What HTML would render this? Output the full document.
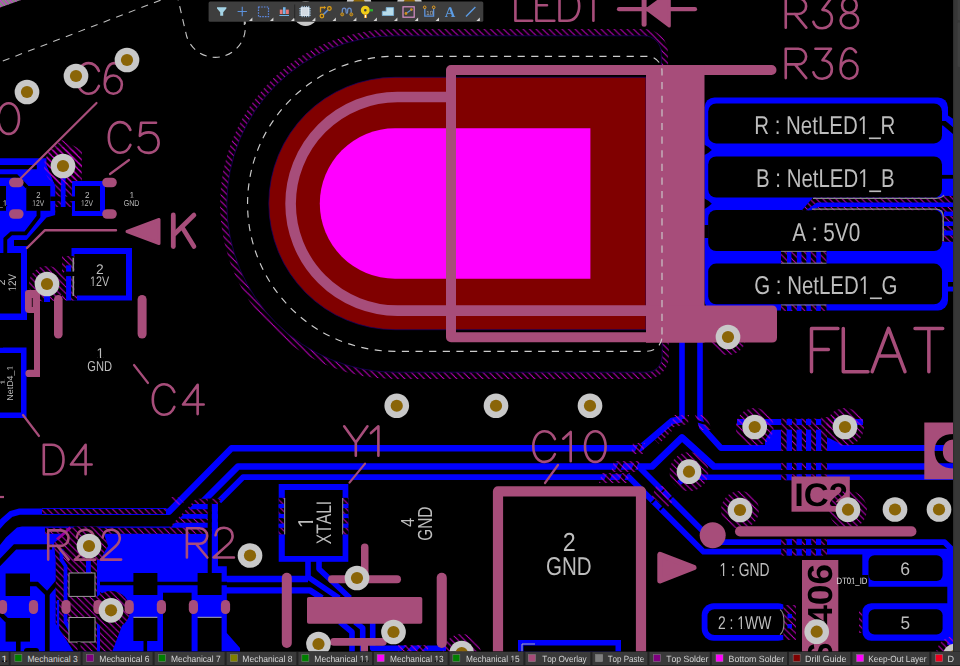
<!DOCTYPE html>
<html><head><meta charset="utf-8"><title>PCB</title>
<style>
html,body{margin:0;padding:0;background:#000;overflow:hidden}
body{width:960px;height:666px;position:relative;font-family:"Liberation Sans",sans-serif}
svg{position:absolute;left:0;top:0;display:block}
text{font-family:"Liberation Sans",sans-serif;font-kerning:none;font-variant-ligatures:none;text-rendering:geometricPrecision}
</style></head><body>
<svg width="960" height="666" viewBox="0 0 960 666">
<defs>
<pattern id="h" width="6.5" height="6.5" patternUnits="userSpaceOnUse">
<path d="M-6.5,-6.5 L6.5,6.5 M0,-6.5 L13,6.5 M-13,-6.5 L0,6.5" stroke="#c400c4" stroke-width="1.0" fill="none"/>
</pattern>
<pattern id="h2" width="5" height="6" patternUnits="userSpaceOnUse">
<path d="M-5,-6 L5,6 M0,-6 L10,6 M-10,-6 L0,6" stroke="#e020e0" stroke-width="1.0" fill="none"/>
</pattern>
<clipPath id="cv"><rect x="0" y="0" width="953" height="651.5"/></clipPath>
</defs>
<rect x="0" y="0" width="960" height="666" fill="#000"/>
<g clip-path="url(#cv)">
<rect x="704.5" y="97.4" width="243.50" height="213.00" rx="10" fill="#0000ff" />
<rect x="940" y="113" width="13.00" height="169.00" fill="#0000ff" />
<rect x="946" y="286.6" width="7.00" height="4.90" fill="#0000ff" />
<rect x="704" y="225" width="4.60" height="13.00" fill="#000" />
<path d="M704,144.5 Q708,146.3 711.8,149.9 Q708,153.5 704,155.3 Z" fill="#000"/>
<path d="M704,198.35 Q708,200.15 711.8,203.75 Q708,207.35 704,209.15 Z" fill="#000"/>
<rect x="708.2" y="103.4" width="233.80" height="40.00" rx="8" fill="#000" />
<rect x="708.2" y="156.4" width="233.80" height="41.20" rx="8" fill="#000" />
<rect x="708.2" y="209.9" width="233.80" height="41.20" rx="8" fill="#000" />
<rect x="708.2" y="263.6" width="233.80" height="40.70" rx="8" fill="#000" />
<polygon points="948,111 953.5,111 953.5,119.2 948,115.4" fill="#000" />
<polygon points="941.5,121.1 945.7,121.1 953.5,127.6 953.5,134.3 943,125.6 941.5,125.6" fill="#000" />
<rect x="941.5" y="174.9" width="12.50" height="3.80" fill="#000" />
<rect x="942.4" y="195.9" width="11.10" height="45.90" fill="#000" />
<rect x="942.4" y="195.9" width="11.10" height="45.90" fill="url(#h)" />
<polygon points="813,197.6 953,197.6 953,210.2 802,210.2" fill="#000" />
<polygon points="813,197.6 953,197.6 953,210.2 802,210.2" fill="url(#h)" />
<polygon points="806,210.2 811.5,210.2 818.8,207.1 953.5,207.1 953.5,202.6 817,202.6" fill="#0000ff" />
<polyline points="813,198.3 936,198.3" fill="none" stroke="#8c8c8c" stroke-width="1.3" stroke-linejoin="round"/>
<polyline points="812,209.2 936,209.2" fill="none" stroke="#8c8c8c" stroke-width="1.3" stroke-linejoin="round"/>
<path d="M936,198.3 Q942,198 944,195" fill="none" stroke="#8c8c8c" stroke-width="1.2"/>
<path d="M936,209.2 Q943.2,209.5 943.2,217 L943.2,241" fill="none" stroke="#8c8c8c" stroke-width="1.3"/>
<rect x="944" y="211.6" width="9.50" height="4.50" fill="#0000ff" />
<rect x="944" y="221.5" width="9.50" height="4.50" fill="#0000ff" />
<rect x="944" y="230.5" width="9.50" height="5.00" fill="#0000ff" />
<rect x="781" y="251" width="45.50" height="12.60" fill="#000" />
<rect x="781" y="251" width="45.50" height="12.60" fill="url(#h)" />
<rect x="787" y="251" width="4.40" height="12.60" fill="#0000ff" />
<rect x="796.9" y="251" width="4.50" height="12.60" fill="#0000ff" />
<rect x="806.4" y="251" width="4.40" height="12.60" fill="#0000ff" />
<rect x="816.3" y="251" width="4.50" height="12.60" fill="#0000ff" />
<polyline points="781,251.4 826.5,251.4" fill="none" stroke="#888" stroke-width="0.9" stroke-linejoin="round"/>
<rect x="781" y="304.6" width="45.50" height="6.40" fill="#000" />
<rect x="781" y="304.6" width="45.50" height="6.40" fill="url(#h)" />
<rect x="787" y="304.6" width="4.40" height="6.40" fill="#0000ff" />
<rect x="796.9" y="304.6" width="4.50" height="6.40" fill="#0000ff" />
<rect x="806.4" y="304.6" width="4.40" height="6.40" fill="#0000ff" />
<rect x="816.3" y="304.6" width="4.50" height="6.40" fill="#0000ff" />
<polyline points="781,305.0 826.5,305.0" fill="none" stroke="#888" stroke-width="0.9" stroke-linejoin="round"/>
<polyline points="781,263.2 826.5,263.2" fill="none" stroke="#888" stroke-width="0.9" stroke-linejoin="round"/>
<polyline points="682,340 682,419" fill="none" stroke="#0000ff" stroke-width="5.6" stroke-linejoin="round"/>
<polyline points="700,340 700,419" fill="none" stroke="#0000ff" stroke-width="5.6" stroke-linejoin="round"/>
<polyline points="-6,531 3,521 11,514 19,511.7 45,511.7" fill="none" stroke="#0000ff" stroke-width="6.199999999999999" stroke-linejoin="round"/>
<polyline points="160,511.7 169,511.7 231.5,448.3 640,448.3 672,421 682,419" fill="none" stroke="#0000ff" stroke-width="6.4" stroke-linejoin="round"/>
<polyline points="202,502.5 238,466.5 652,466.5 682,437.5 714,466.5 953,466.5" fill="none" stroke="#0000ff" stroke-width="6.7" stroke-linejoin="round"/>
<polyline points="219,501.2 243,477.2 629,477.2 703.5,551.7 953,551.7" fill="none" stroke="#0000ff" stroke-width="5.8" stroke-linejoin="round"/>
<polyline points="640,468 714,542.2 944.6,542.2 955,552.6" fill="none" stroke="#0000ff" stroke-width="5.8" stroke-linejoin="round"/>
<polyline points="700,419 702,427 721,448 953,448" fill="none" stroke="#0000ff" stroke-width="6.0" stroke-linejoin="round"/>
<polyline points="679,483 686,477 707,477.3 953,477.3" fill="none" stroke="#0000ff" stroke-width="5.3999999999999995" stroke-linejoin="round"/>
<polyline points="737,422 863,422" fill="none" stroke="#0000ff" stroke-width="6" stroke-linejoin="round"/>
<polygon points="765,440 772.2,429.8 781.2,429.8 781.2,451 765,451" fill="#0000ff" />
<polygon points="826.9,437 845,446 845,451 826.9,451" fill="#0000ff" />
<rect x="781.2" y="418.6" width="45.80" height="32.40" fill="#000" />
<rect x="781.2" y="418.6" width="45.80" height="32.40" fill="url(#h)" />
<rect x="821.5" y="417" width="12.50" height="11.00" fill="#000" />
<rect x="821.5" y="417" width="12.50" height="11.00" fill="url(#h)" />
<rect x="786.6" y="419" width="5.40" height="6.00" fill="#0000ff" />
<rect x="796.5" y="419" width="5.30" height="6.00" fill="#0000ff" />
<rect x="806" y="419" width="5.20" height="6.00" fill="#0000ff" />
<rect x="816" y="419" width="5.20" height="6.00" fill="#0000ff" />
<rect x="786.6" y="429.6" width="5.40" height="21.40" fill="#0000ff" />
<rect x="796.5" y="429.6" width="5.30" height="21.40" fill="#0000ff" />
<rect x="806" y="429.6" width="5.20" height="21.40" fill="#0000ff" />
<rect x="816" y="429.6" width="5.20" height="21.40" fill="#0000ff" />
<rect x="781.2" y="462.9" width="45.80" height="7.10" fill="#000" />
<rect x="781.2" y="462.9" width="45.80" height="7.10" fill="url(#h)" />
<rect x="786.6" y="462.9" width="5.40" height="7.10" fill="#0000ff" />
<rect x="796.5" y="462.9" width="5.30" height="7.10" fill="#0000ff" />
<rect x="806" y="462.9" width="5.20" height="7.10" fill="#0000ff" />
<rect x="816" y="462.9" width="5.20" height="7.10" fill="#0000ff" />
<rect x="781.2" y="474.3" width="45.80" height="6.00" fill="#000" />
<rect x="781.2" y="474.3" width="45.80" height="6.00" fill="url(#h)" />
<rect x="786.6" y="474.3" width="5.40" height="6.00" fill="#0000ff" />
<rect x="796.5" y="474.3" width="5.30" height="6.00" fill="#0000ff" />
<rect x="806" y="474.3" width="5.20" height="6.00" fill="#0000ff" />
<rect x="816" y="474.3" width="5.20" height="6.00" fill="#0000ff" />
<rect x="781.2" y="538.9" width="45.80" height="6.10" fill="#000" />
<rect x="781.2" y="538.9" width="45.80" height="6.10" fill="url(#h)" />
<rect x="786.6" y="538.9" width="5.40" height="6.10" fill="#0000ff" />
<rect x="796.5" y="538.9" width="5.30" height="6.10" fill="#0000ff" />
<rect x="806" y="538.9" width="5.20" height="6.10" fill="#0000ff" />
<rect x="816" y="538.9" width="5.20" height="6.10" fill="#0000ff" />
<rect x="781.2" y="549" width="45.80" height="6.60" fill="#000" />
<rect x="781.2" y="549" width="45.80" height="6.60" fill="url(#h)" />
<rect x="786.6" y="549" width="5.40" height="6.60" fill="#0000ff" />
<rect x="796.5" y="549" width="5.30" height="6.60" fill="#0000ff" />
<rect x="806" y="549" width="5.20" height="6.60" fill="#0000ff" />
<rect x="816" y="549" width="5.20" height="6.60" fill="#0000ff" />
<rect x="862.3" y="549" width="93.70" height="37.70" rx="6" fill="#0000ff" />
<rect x="862.3" y="603.2" width="93.70" height="37.60" rx="9" fill="#0000ff" />
<rect x="947.3" y="548" width="5.70" height="97.00" fill="#0000ff" />
<rect x="868.5" y="555.3" width="74.10" height="25.70" rx="6" fill="#000" />
<rect x="868.5" y="609.2" width="74.10" height="25.40" rx="6" fill="#000" />
<rect x="836.5" y="575" width="32.00" height="12.00" fill="#000" />
<rect x="859" y="610" width="3.30" height="23.00" fill="#000" />
<rect x="859" y="610" width="3.30" height="23.00" fill="url(#h)" />
<rect x="701.7" y="603.3" width="88.30" height="37.50" rx="12" fill="#0000ff" />
<rect x="707.5" y="609.2" width="84.50" height="25.80" rx="7" fill="#000" />
<rect x="783.5" y="600" width="13.50" height="44.00" fill="#000" />
<rect x="783.5" y="605" width="12.50" height="35.00" fill="#000" />
<rect x="783.5" y="605" width="12.50" height="35.00" fill="url(#h)" />
<rect x="787.5" y="614" width="4.50" height="4.30" fill="#0000ff" />
<rect x="787.5" y="624" width="4.50" height="4.30" fill="#0000ff" />
<path d="M780,609.6 Q784,612 784,622 Q784,632 780,634.6" fill="none" stroke="#909090" stroke-width="1.1"/>
<rect x="518" y="640" width="103.00" height="12.00" fill="#0000ff" />
<rect x="523.5" y="645.5" width="92.00" height="6.50" fill="#000" />
<polyline points="522,652 522,644 535,644" fill="none" stroke="#aaa" stroke-width="1" stroke-linejoin="round"/>
<rect x="278.7" y="484" width="69.60" height="77.80" fill="#0000ff" />
<rect x="278.7" y="497.8" width="5.70" height="36.60" fill="#000" />
<rect x="278.7" y="497.8" width="5.70" height="36.60" fill="url(#h)" />
<rect x="278.7" y="503.9" width="5.70" height="4.20" fill="#0000ff" />
<rect x="278.7" y="513.9" width="5.70" height="4.20" fill="#0000ff" />
<rect x="278.7" y="523.6" width="5.70" height="4.20" fill="#0000ff" />
<rect x="342.6" y="497.8" width="5.70" height="36.60" fill="#000" />
<rect x="342.6" y="497.8" width="5.70" height="36.60" fill="url(#h)" />
<rect x="342.6" y="503.9" width="5.70" height="4.20" fill="#0000ff" />
<rect x="342.6" y="513.9" width="5.70" height="4.20" fill="#0000ff" />
<rect x="342.6" y="523.6" width="5.70" height="4.20" fill="#0000ff" />
<rect x="284.8" y="490" width="57.80" height="66.00" fill="#000" />
<polyline points="284.7,498 284.7,534.4" fill="none" stroke="#999" stroke-width="1" stroke-linejoin="round"/>
<polyline points="342.7,498 342.7,534.4" fill="none" stroke="#999" stroke-width="1" stroke-linejoin="round"/>
<polyline points="308,560 308,577 339,598" fill="none" stroke="#0000ff" stroke-width="5.6" stroke-linejoin="round"/>
<polyline points="319,560 319,569 350,598" fill="none" stroke="#0000ff" stroke-width="5.6" stroke-linejoin="round"/>
<polyline points="221,579 308,579" fill="none" stroke="#0000ff" stroke-width="6.6" stroke-linejoin="round"/>
<polyline points="222,590.3 310,590.3 322,598" fill="none" stroke="#0000ff" stroke-width="6.199999999999999" stroke-linejoin="round"/>
<polyline points="340,622 352,632 352,652" fill="none" stroke="#0000ff" stroke-width="5.6" stroke-linejoin="round"/>
<polyline points="355,622 362.7,628 362.7,652" fill="none" stroke="#0000ff" stroke-width="5.6" stroke-linejoin="round"/>
<polyline points="372.7,622 372.7,648.3 446,648.3" fill="none" stroke="#0000ff" stroke-width="5.6" stroke-linejoin="round"/>
<polygon points="0,545 6,537.5 17,527.4 22,526.4 172,526.4 172,533.7 217.8,533.7 217.8,566.3 226.8,566.3 226.8,633 240,648 240,652 0,652" fill="#0000ff" />
<polyline points="-2,564.5 15,546.9 52,546.9" fill="none" stroke="#000" stroke-width="5.2" stroke-linejoin="miter"/>
<rect x="5.6" y="573.5" width="24.40" height="22.50" fill="#000" />
<rect x="5.6" y="618" width="24.40" height="23.60" fill="#000" />
<rect x="133.4" y="573" width="24.00" height="22.00" fill="#000" />
<rect x="197.6" y="573" width="24.00" height="22.00" fill="#000" />
<rect x="133.4" y="617.5" width="24.00" height="23.50" fill="#000" />
<rect x="197.6" y="617.5" width="24.00" height="34.50" fill="#000" />
<rect x="163" y="592.7" width="28.60" height="59.30" fill="#000" />
<polyline points="29,584 37,584 47.3,594 57.5,582" fill="none" stroke="#000" stroke-width="4.4" stroke-linejoin="miter"/>
<polyline points="47.3,593 47.3,652" fill="none" stroke="#000" stroke-width="4.7" stroke-linejoin="round"/>
<polyline points="18.3,640 18.3,652" fill="none" stroke="#000" stroke-width="4.6" stroke-linejoin="round"/>
<rect x="24" y="648" width="15.00" height="6.00" rx="3" fill="#000" />
<polyline points="-2,611.5 7,620.5" fill="none" stroke="#000" stroke-width="4.6" stroke-linejoin="round"/>
<polyline points="100,583.5 134,583.5" fill="none" stroke="#000" stroke-width="3.4" stroke-linejoin="round"/>
<polyline points="157,583.5 198,583.5" fill="none" stroke="#000" stroke-width="3.4" stroke-linejoin="round"/>
<polyline points="145.3,640 145.3,652" fill="none" stroke="#000" stroke-width="3.6" stroke-linejoin="round"/>
<polyline points="221,583.5 227,583.5" fill="none" stroke="#000" stroke-width="3.4" stroke-linejoin="round"/>
<polygon points="45,527.7 169,527.7 196,498.8 221.5,498.8 217.8,503.5 217.8,533.7 45,533.7" fill="#000" />
<polygon points="45,527.7 169,527.7 196,498.8 221.5,498.8 217.8,503.5 217.8,533.7 45,533.7" fill="url(#h)" />
<polygon points="188.7,509.3 193.6,504 217.8,504 217.8,509.3" fill="#0000ff" />
<polygon points="179.4,518.7 183.8,514 217.8,514 217.8,518.7" fill="#0000ff" />
<polygon points="170.4,527.7 175,522.8 217.8,522.8 217.8,527.7" fill="#0000ff" />
<rect x="211.8" y="504" width="6.00" height="63.00" fill="#0000ff" />
<rect x="207.7" y="498.8" width="4.10" height="75.20" fill="#000" />
<polygon points="74.5,526.4 54,543 55.7,560 55.7,623.6 74,652 112,652 128,610 97,590 97,565 108,546 104,534 97,526.4" fill="#000" />
<polygon points="74.5,526.4 54,543 55.7,560 55.7,623.6 74,652 112,652 128,610 97,590 97,565 108,546 104,534 97,526.4" fill="url(#h)" />
<polyline points="57,539.5 70.5,527.5" fill="none" stroke="#9a009a" stroke-width="3" stroke-linejoin="round"/>
<rect x="86" y="561" width="4.80" height="12.00" fill="#0000ff" />
<polyline points="61.5,549 61.5,560 65.5,566 65.5,622 76,640" fill="none" stroke="#0000ff" stroke-width="3.8" stroke-linejoin="round"/>
<polyline points="58,600 58,640 66,652" fill="none" stroke="#0000ff" stroke-width="2.4" stroke-linejoin="round"/>
<rect x="97" y="560" width="3.00" height="92.00" fill="#0000ff" />
<circle cx="111" cy="610" r="19" fill="#000"/>
<circle cx="111" cy="610" r="19" fill="url(#h)"/>
<rect x="69" y="573" width="26.00" height="23.40" fill="#000" />
<rect x="69" y="617.5" width="26.00" height="24.50" fill="#000" />
<rect x="69" y="573" width="26" height="23.4" fill="none" stroke="#999" stroke-width="1"/>
<rect x="69" y="617.5" width="26" height="24.5" fill="none" stroke="#999" stroke-width="1"/>
<polyline points="79,642 79,652" fill="none" stroke="#000" stroke-width="3" stroke-linejoin="round"/>
<polyline points="133.4,617.3 157.4,617.3" fill="none" stroke="#aaa" stroke-width="1" stroke-linejoin="round"/>
<polyline points="197.6,617.3 221.6,617.3" fill="none" stroke="#aaa" stroke-width="1" stroke-linejoin="round"/>
<rect x="42" y="508.3" width="124.00" height="6.50" fill="#000" />
<rect x="42" y="508.3" width="124.00" height="6.50" fill="url(#h)" />
<polyline points="42,508.5 166,508.5" fill="none" stroke="#0000ff" stroke-width="0.9" stroke-linejoin="round"/>
<polyline points="42,514.5 166,514.5" fill="none" stroke="#0000ff" stroke-width="0.9" stroke-linejoin="round"/>
<polygon points="171,497 178,497 184,503 176,506" fill="url(#h)" />
<rect x="0" y="347.5" width="26.50" height="70.50" fill="#0000ff" />
<rect x="0" y="353" width="21.00" height="59.50" fill="#000" />
<rect x="0" y="246" width="27.00" height="74.00" fill="#0000ff" />
<rect x="0" y="253" width="21.00" height="60.50" fill="#000" />
<rect x="0" y="320" width="3.00" height="27.50" fill="#000" />
<rect x="71.5" y="248" width="60.50" height="52.50" fill="#0000ff" />
<rect x="62" y="256" width="15.00" height="44.50" fill="#000" />
<rect x="62" y="256" width="15.00" height="44.50" fill="url(#h)" />
<rect x="66.1" y="265.3" width="5.00" height="35.20" fill="#0000ff" />
<rect x="64" y="271.6" width="13.00" height="4.50" fill="#000" />
<rect x="74.4" y="254" width="51.60" height="41.50" fill="#000" />
<polyline points="73.3,257.7 73.3,271.6" fill="none" stroke="#909090" stroke-width="1.6" stroke-linejoin="round"/>
<polyline points="73.3,276.1 73.3,296" fill="none" stroke="#909090" stroke-width="1.6" stroke-linejoin="round"/>
<rect x="72" y="181" width="33.00" height="35.00" fill="#0000ff" />
<rect x="75" y="186" width="25.00" height="25.00" fill="#000" />
<polygon points="0,158.3 46.5,158.3 46.5,165 55.5,186 55.5,215 46.5,217.6 26.5,240 14,240 14,253 0,253" fill="#0000ff" />
<rect x="26.3" y="186" width="24.00" height="24.80" fill="#000" />
<rect x="0" y="186" width="6.00" height="24.80" fill="#000" />
<polyline points="0,167.2 36.8,167.2" fill="none" stroke="#000" stroke-width="4.2" stroke-linejoin="round"/>
<polyline points="0,176 16.5,176 27,187" fill="none" stroke="#000" stroke-width="3.6" stroke-linejoin="miter"/>
<polyline points="38.5,210 38.5,216.5 25.5,233.3 11.3,233.3 5.3,238.8 5.3,254" fill="none" stroke="#000" stroke-width="3.8" stroke-linejoin="miter"/>
<rect x="15" y="240" width="12.00" height="6.00" fill="#000" />
<polygon points="47,152 62,140 82,150 82,181 71.8,181 71.8,216 55.5,216 55.5,186 46.8,165.5" fill="#000" />
<polygon points="47,152 62,140 82,150 82,181 71.8,181 71.8,216 55.5,216 55.5,186 46.8,165.5" fill="url(#h)" />
<rect x="55.5" y="207" width="16.30" height="10.00" fill="#000" />
<rect x="60.8" y="176" width="4.80" height="31.00" fill="#0000ff" />
<rect x="50.3" y="196.5" width="10.50" height="4.50" fill="#000" />
<rect x="65.6" y="196.5" width="9.40" height="4.50" fill="#000" />
<circle cx="47" cy="284" r="18" fill="#000"/>
<circle cx="47" cy="284" r="18" fill="url(#h)"/>
<rect x="44" y="290" width="6.00" height="12.00" fill="#0000ff" />
<circle cx="63" cy="166" r="19" fill="url(#h)"/>
<circle cx="728" cy="337" r="18" fill="url(#h)"/>
<circle cx="754.7" cy="427" r="19" fill="url(#h)"/>
<circle cx="845" cy="427" r="19" fill="url(#h)"/>
<circle cx="689" cy="471.7" r="19.5" fill="url(#h)"/>
<circle cx="740" cy="510" r="19" fill="url(#h)"/>
<circle cx="848" cy="509.7" r="19" fill="url(#h)"/>
<circle cx="461.7" cy="653" r="19" fill="url(#h)"/>
<circle cx="955" cy="655" r="19" fill="url(#h)"/>
<polyline points="636.0999999999999,453.5 640.5,443.5" fill="none" stroke="#000" stroke-width="3.6" stroke-linejoin="round"/>
<polyline points="617.3,471.5 621.7,461.5" fill="none" stroke="#000" stroke-width="4.6" stroke-linejoin="round"/>
<polyline points="632.5,471.5 636.9000000000001,461.5" fill="none" stroke="#000" stroke-width="3.6" stroke-linejoin="round"/>
<polyline points="605.5999999999999,483 610.0,473" fill="none" stroke="#000" stroke-width="4.8" stroke-linejoin="round"/>
<polyline points="620.5999999999999,483 625.0,473" fill="none" stroke="#000" stroke-width="4.6" stroke-linejoin="round"/>
<polyline points="658.9,494.9 665.6999999999999,488.1" fill="none" stroke="#000" stroke-width="1.8" stroke-linejoin="round"/>
<polyline points="666.4,502.4 673.1999999999999,495.6" fill="none" stroke="#000" stroke-width="1.8" stroke-linejoin="round"/>
<polyline points="651.4,503.2 658.1999999999999,496.40000000000003" fill="none" stroke="#000" stroke-width="1.8" stroke-linejoin="round"/>
<polyline points="659.6,510.0 666.4,503.20000000000005" fill="none" stroke="#000" stroke-width="1.8" stroke-linejoin="round"/>
<polygon points="633,443 645,443 643,454 631,454" fill="url(#h)" />
<polygon points="614,461 640,461 637,472 611,472" fill="url(#h)" />
<polygon points="602,473 630,473 627,483 599,483" fill="url(#h)" />
<polygon points="656,486 663,486 674,500 667,508 652,497" fill="url(#h)" />
<polygon points="674,415 689,415 688,424 670,428" fill="url(#h)" />
<polygon points="695,415 706,415 712,430 700,430" fill="url(#h)" />
<polygon points="655,440 668,427 672,431 659,444" fill="url(#h)" />
<polyline points="695.5,420.6 705,423.6" fill="none" stroke="#000" stroke-width="2.2" stroke-linejoin="round"/>
<polygon points="400.7,652 407.2,645 412.2,645 405.7,652" fill="#000" />
<polygon points="415.7,652 422.2,645 427.2,645 420.7,652" fill="#000" />
<polygon points="398,645 428,645 428,652 398,652" fill="url(#h)" />
<path d="M664.7,66 L664.7,53.1 A20.7,20.7 0 0 0 644,32.400000000000006 L395,32.400000000000006 A171.6,171.6 0 0 0 395,375.6 L647,375.6 A18.5,18.5 0 0 0 665.5,357 L665.5,342" fill="none" stroke="url(#h)" stroke-width="6.7"/>
<path d="M661.3,66 L661.3,53.1 A17.3,17.3 0 0 0 644,35.80000000000001 L395,35.80000000000001 A168.2,168.2 0 0 0 395,372.2 L647,372.2 A15.1,15.1 0 0 0 662.1,357 L662.1,342" fill="none" stroke="#14005c" stroke-width="0.8"/>
<path d="M646,77.3 L395,77.3 A126.2,126.2 0 0 0 395,329.7 L646,329.7 Z" fill="#800000" stroke="#16006a" stroke-width="0.7"/>
<path d="M590.4,128.3 L395,128.3 A75.2,75.2 0 0 0 395,278.7 L590.4,278.7 Z" fill="#ff00ff"/>
<path d="M451,97.00000000000001 L397.4,97.00000000000001 A106.8,106.8 0 0 0 397.4,310.6 L650,310.6" fill="none" stroke="#a74d7a" stroke-width="10.6"/>
<path d="M771.5,70 L451,70 L451,337.3 L650,337.3" fill="none" stroke="#a74d7a" stroke-width="10" stroke-linejoin="round" stroke-linecap="round"/>
<rect x="646" y="65" width="58.50" height="277.50" fill="#a74d7a" />
<path d="M646,305.5 L772,305.5 Q777,305.5 777,310.5 L777,337.5 Q777,342.5 772,342.5 L646,342.5 Z" fill="#a74d7a"/>
<polyline points="619,9.2 695,9.2" fill="none" stroke="#a74d7a" stroke-width="4.2" stroke-linecap="round"/>
<polyline points="644.1,-3 644.1,24.2" fill="none" stroke="#a74d7a" stroke-width="5" stroke-linecap="round"/>
<polygon points="647,9.2 669.3,-7 669.3,26" fill="#a74d7a" stroke="#a74d7a" stroke-width="3" stroke-linejoin="round"/>
<polyline points="96.5,103 16,183" fill="none" stroke="#a74d7a" stroke-width="2.2" stroke-linecap="round"/>
<polyline points="129,160 110,174" fill="none" stroke="#a74d7a" stroke-width="2.2" stroke-linecap="round"/>
<rect x="9.0" y="177.7" width="14.60" height="9.60" rx="4.8" fill="#a74d7a" />
<rect x="9.0" y="209.2" width="14.60" height="9.60" rx="4.8" fill="#a74d7a" />
<rect x="102.2" y="177.7" width="14.60" height="9.60" rx="4.8" fill="#a74d7a" />
<rect x="102.2" y="209.2" width="14.60" height="9.60" rx="4.8" fill="#a74d7a" />
<polyline points="116,230.2 45,230.2 27,248" fill="none" stroke="#a74d7a" stroke-width="2.4" stroke-linecap="round" stroke-linejoin="round"/>
<polygon points="127,231.5 159,219.5 159,243.5" fill="#a74d7a" stroke="#a74d7a" stroke-width="3" stroke-linejoin="round"/>
<polyline points="173.3,215 173.3,246.5" fill="none" stroke="#a74d7a" stroke-width="4.8" stroke-linecap="round"/>
<polyline points="194,215 174.5,234" fill="none" stroke="#a74d7a" stroke-width="4.6" stroke-linecap="round"/>
<polyline points="182,227 194,246.5" fill="none" stroke="#a74d7a" stroke-width="4.6" stroke-linecap="round"/>
<rect x="54" y="295" width="8.60" height="43.50" rx="4.3" fill="#a74d7a" />
<rect x="137.6" y="295" width="9.00" height="43.50" rx="4.5" fill="#a74d7a" />
<path d="M28,290 L40,290 L40,377 L29,377 A3.6,3.6 0 0 1 29,369.8 L34,369.8 L34,313 L29,313 A4,4 0 0 1 25,309 L25,293 A3,3 0 0 1 28,290 Z" fill="#a74d7a"/>
<polyline points="32.3,298 32.3,307" fill="none" stroke="#000" stroke-width="0.8" stroke-linejoin="round"/>
<polyline points="134,365 148,383" fill="none" stroke="#a74d7a" stroke-width="2.2" stroke-linecap="round"/>
<polyline points="23,415 39,436" fill="none" stroke="#a74d7a" stroke-width="2.2" stroke-linecap="round"/>
<polyline points="365,463.6 349.5,482.6" fill="none" stroke="#a74d7a" stroke-width="2.2" stroke-linecap="round"/>
<polyline points="558,465 545,483" fill="none" stroke="#a74d7a" stroke-width="2.2" stroke-linecap="round"/>
<polyline points="0,497 4,497" fill="none" stroke="#a74d7a" stroke-width="2.2" stroke-linejoin="round"/>
<rect x="-2.0999999999999996" y="600" width="9.20" height="14.00" rx="4.4" fill="#a74d7a" />
<rect x="28.9" y="600" width="9.20" height="14.00" rx="4.4" fill="#a74d7a" />
<rect x="61.4" y="600" width="9.20" height="14.00" rx="4.4" fill="#a74d7a" />
<rect x="93.4" y="600" width="9.20" height="14.00" rx="4.4" fill="#a74d7a" />
<rect x="124.6" y="600" width="9.20" height="14.00" rx="4.4" fill="#a74d7a" />
<rect x="156.8" y="600" width="9.20" height="14.00" rx="4.4" fill="#a74d7a" />
<rect x="188.8" y="600" width="9.20" height="14.00" rx="4.4" fill="#a74d7a" />
<rect x="220.9" y="600" width="9.20" height="14.00" rx="4.4" fill="#a74d7a" />
<rect x="281.8" y="572.7" width="10.00" height="75.30" rx="5" fill="#a74d7a" />
<rect x="436.7" y="572.7" width="10.10" height="75.30" rx="5" fill="#a74d7a" />
<rect x="328" y="575.3" width="73.00" height="7.90" rx="4" fill="#a74d7a" />
<rect x="361" y="543.5" width="7.50" height="37.50" rx="3.7" fill="#a74d7a" />
<rect x="307" y="597" width="115.30" height="26.80" rx="1.8" fill="#a74d7a" />
<rect x="330" y="638" width="56.70" height="7.80" rx="3.8" fill="#a74d7a" />
<rect x="360.8" y="641" width="7.20" height="11.00" fill="#a74d7a" />
<path d="M498,652 L498,491.3 L641,491.3 L641,652" fill="none" stroke="#a74d7a" stroke-width="10.2" stroke-linejoin="round"/>
<polygon points="660,554.6 660,580.8 693.8,567.4" fill="#a74d7a" stroke="#a74d7a" stroke-width="5.4" stroke-linejoin="round"/>
<circle cx="712.7" cy="535.3" r="13" fill="#a74d7a"/>
<rect x="735" y="526.3" width="181.50" height="10.20" rx="5.1" fill="#a74d7a" />
<path transform="translate(515.4,-8.6) scale(29.4)" d="M0,0 L0,1 L.57,1" fill="none" stroke="#a74d7a" stroke-width="0.0884" stroke-linecap="round" stroke-linejoin="round"/>
<path transform="translate(536.4,-8.6) scale(29.4)" d="M.61,0 L0,0 L0,1 L.61,1 M0,.47 L.36,.47" fill="none" stroke="#a74d7a" stroke-width="0.0884" stroke-linecap="round" stroke-linejoin="round"/>
<path transform="translate(559.5,-8.6) scale(29.4)" d="M0,0 L0,1 L.27,1 C.52,1 .67,.79 .67,.5 C.67,.21 .52,0 .27,0 Z" fill="none" stroke="#a74d7a" stroke-width="0.0884" stroke-linecap="round" stroke-linejoin="round"/>
<path transform="translate(593.4,-8.6) scale(29.4)" d="M-.254,.23 L0,0 L0,1" fill="none" stroke="#a74d7a" stroke-width="0.0884" stroke-linecap="round" stroke-linejoin="round"/>
<path transform="translate(785.75,-1.6) scale(29.3)" d="M0,1 L0,0 L.43,0 A.265,.265 0 0 1 .43,.53 L0,.53 M.31,.53 L.70,1" fill="none" stroke="#a74d7a" stroke-width="0.0887" stroke-linecap="round" stroke-linejoin="round"/>
<path transform="translate(813.4,-1.6) scale(29.3)" d="M.07,0 L.6,0 L.31,.39 C.5,.39 .63,.52 .63,.70 C.63,.9 .48,1.02 .30,1.02 C.15,1.02 .04,.94 0,.80" fill="none" stroke="#a74d7a" stroke-width="0.0887" stroke-linecap="round" stroke-linejoin="round"/>
<path transform="translate(840.6,-1.6) scale(29.3)" d="M.3,-.02 C.16,-.02 .05,.09 .05,.235 C.05,.38 .16,.49 .3,.49 C.44,.49 .55,.38 .55,.235 C.55,.09 .44,-.02 .3,-.02 Z M.3,.49 C.13,.49 0,.61 0,.755 C0,.9 .13,1.02 .3,1.02 C.47,1.02 .6,.9 .6,.755 C.6,.61 .47,.49 .3,.49 Z" fill="none" stroke="#a74d7a" stroke-width="0.0887" stroke-linecap="round" stroke-linejoin="round"/>
<path transform="translate(785.75,48.8) scale(29.3)" d="M0,1 L0,0 L.43,0 A.265,.265 0 0 1 .43,.53 L0,.53 M.31,.53 L.70,1" fill="none" stroke="#a74d7a" stroke-width="0.0887" stroke-linecap="round" stroke-linejoin="round"/>
<path transform="translate(813.4,48.8) scale(29.3)" d="M.07,0 L.6,0 L.31,.39 C.5,.39 .63,.52 .63,.70 C.63,.9 .48,1.02 .30,1.02 C.15,1.02 .04,.94 0,.80" fill="none" stroke="#a74d7a" stroke-width="0.0887" stroke-linecap="round" stroke-linejoin="round"/>
<path transform="translate(840.6,48.8) scale(29.3)" d="M.525,.115 C.47,.03 .40,-.02 .32,-.02 C.12,-.02 0,.25 0,.70 C0,.89 .13,1.02 .29,1.02 C.45,1.02 .58,.89 .58,.71 C.58,.53 .45,.40 .29,.40 C.15,.40 .04,.50 0,.66" fill="none" stroke="#a74d7a" stroke-width="0.0887" stroke-linecap="round" stroke-linejoin="round"/>
<path transform="translate(77.3,63.7) scale(29.4)" d="M.735,.245 C.66,.07 .53,-.02 .385,-.02 C.16,-.02 0,.19 0,.5 C0,.81 .16,1.02 .385,1.02 C.53,1.02 .66,.93 .735,.755" fill="none" stroke="#a74d7a" stroke-width="0.0884" stroke-linecap="round" stroke-linejoin="round"/>
<path transform="translate(104.8,63.7) scale(29.4)" d="M.525,.115 C.47,.03 .40,-.02 .32,-.02 C.12,-.02 0,.25 0,.70 C0,.89 .13,1.02 .29,1.02 C.45,1.02 .58,.89 .58,.71 C.58,.53 .45,.40 .29,.40 C.15,.40 .04,.50 0,.66" fill="none" stroke="#a74d7a" stroke-width="0.0884" stroke-linecap="round" stroke-linejoin="round"/>
<path transform="translate(-1.6,103.9) scale(29.4)" d="M.35,-.02 C.15,-.02 0,.19 0,.5 C0,.81 .15,1.02 .35,1.02 C.55,1.02 .70,.81 .70,.5 C.70,.19 .55,-.02 .35,-.02 Z" fill="none" stroke="#a74d7a" stroke-width="0.0884" stroke-linecap="round" stroke-linejoin="round"/>
<path transform="translate(108.8,122.7) scale(29.4)" d="M.735,.245 C.66,.07 .53,-.02 .385,-.02 C.16,-.02 0,.19 0,.5 C0,.81 .16,1.02 .385,1.02 C.53,1.02 .66,.93 .735,.755" fill="none" stroke="#a74d7a" stroke-width="0.0884" stroke-linecap="round" stroke-linejoin="round"/>
<path transform="translate(138.5,122.7) scale(29.4)" d="M.596,0 L.09,0 L.046,.448 C.12,.37 .23,.33 .35,.33 C.55,.33 .685,.47 .685,.68 C.685,.89 .54,1.025 .35,1.025 C.18,1.025 .05,.96 0,.83" fill="none" stroke="#a74d7a" stroke-width="0.0884" stroke-linecap="round" stroke-linejoin="round"/>
<path transform="translate(152.8,384.8) scale(29.3)" d="M.735,.245 C.66,.07 .53,-.02 .385,-.02 C.16,-.02 0,.19 0,.5 C0,.81 .16,1.02 .385,1.02 C.53,1.02 .66,.93 .735,.755" fill="none" stroke="#a74d7a" stroke-width="0.0887" stroke-linecap="round" stroke-linejoin="round"/>
<path transform="translate(183,384.8) scale(29.3)" d="M.5,1 L.5,0 L0,.67 L.706,.67" fill="none" stroke="#a74d7a" stroke-width="0.0887" stroke-linecap="round" stroke-linejoin="round"/>
<path transform="translate(43.8,444.8) scale(29.4)" d="M0,0 L0,1 L.27,1 C.52,1 .67,.79 .67,.5 C.67,.21 .52,0 .27,0 Z" fill="none" stroke="#a74d7a" stroke-width="0.0884" stroke-linecap="round" stroke-linejoin="round"/>
<path transform="translate(70.9,444.8) scale(29.4)" d="M.5,1 L.5,0 L0,.67 L.706,.67" fill="none" stroke="#a74d7a" stroke-width="0.0884" stroke-linecap="round" stroke-linejoin="round"/>
<path transform="translate(344.2,426.3) scale(29.4)" d="M0,0 L.395,.55 L.79,0 M.395,.55 L.395,1" fill="none" stroke="#a74d7a" stroke-width="0.0884" stroke-linecap="round" stroke-linejoin="round"/>
<path transform="translate(378.4,426.3) scale(29.4)" d="M-.254,.23 L0,0 L0,1" fill="none" stroke="#a74d7a" stroke-width="0.0884" stroke-linecap="round" stroke-linejoin="round"/>
<path transform="translate(533.3,431.9) scale(29.4)" d="M.735,.245 C.66,.07 .53,-.02 .385,-.02 C.16,-.02 0,.19 0,.5 C0,.81 .16,1.02 .385,1.02 C.53,1.02 .66,.93 .735,.755" fill="none" stroke="#a74d7a" stroke-width="0.0884" stroke-linecap="round" stroke-linejoin="round"/>
<path transform="translate(570.7,431.9) scale(29.4)" d="M-.254,.23 L0,0 L0,1" fill="none" stroke="#a74d7a" stroke-width="0.0884" stroke-linecap="round" stroke-linejoin="round"/>
<path transform="translate(585,431.9) scale(29.4)" d="M.35,-.02 C.15,-.02 0,.19 0,.5 C0,.81 .15,1.02 .35,1.02 C.55,1.02 .70,.81 .70,.5 C.70,.19 .55,-.02 .35,-.02 Z" fill="none" stroke="#a74d7a" stroke-width="0.0884" stroke-linecap="round" stroke-linejoin="round"/>
<path transform="translate(48.2,530.4) scale(29.2)" d="M0,1 L0,0 L.43,0 A.265,.265 0 0 1 .43,.53 L0,.53 M.31,.53 L.70,1" fill="none" stroke="#a74d7a" stroke-width="0.0890" stroke-linecap="round" stroke-linejoin="round"/>
<path transform="translate(74.8,530.4) scale(29.2)" d="M.07,.24 C.09,.08 .2,-.02 .36,-.02 C.53,-.02 .655,.09 .655,.26 C.655,.38 .6,.46 .5,.55 L0,1 L.70,1" fill="none" stroke="#a74d7a" stroke-width="0.0890" stroke-linecap="round" stroke-linejoin="round"/>
<path transform="translate(100.7,530.4) scale(29.2)" d="M.07,.24 C.09,.08 .2,-.02 .36,-.02 C.53,-.02 .655,.09 .655,.26 C.655,.38 .6,.46 .5,.55 L0,1 L.70,1" fill="none" stroke="#a74d7a" stroke-width="0.0890" stroke-linecap="round" stroke-linejoin="round"/>
<path transform="translate(186.9,528.3) scale(29.2)" d="M0,1 L0,0 L.43,0 A.265,.265 0 0 1 .43,.53 L0,.53 M.31,.53 L.70,1" fill="none" stroke="#a74d7a" stroke-width="0.0890" stroke-linecap="round" stroke-linejoin="round"/>
<path transform="translate(213.5,528.3) scale(29.2)" d="M.07,.24 C.09,.08 .2,-.02 .36,-.02 C.53,-.02 .655,.09 .655,.26 C.655,.38 .6,.46 .5,.55 L0,1 L.70,1" fill="none" stroke="#a74d7a" stroke-width="0.0890" stroke-linecap="round" stroke-linejoin="round"/>
<path transform="translate(811.5,328.4) scale(43.3)" d="M.61,0 L0,0 L0,1 M0,.485 L.39,.485" fill="none" stroke="#a74d7a" stroke-width="0.0808" stroke-linecap="round" stroke-linejoin="round"/>
<path transform="translate(843.3,328.4) scale(43.3)" d="M0,0 L0,1 L.57,1" fill="none" stroke="#a74d7a" stroke-width="0.0808" stroke-linecap="round" stroke-linejoin="round"/>
<path transform="translate(872.2,328.4) scale(43.3)" d="M0,1 L.378,0 L.757,1 M.137,.64 L.62,.64" fill="none" stroke="#a74d7a" stroke-width="0.0808" stroke-linecap="round" stroke-linejoin="round"/>
<path transform="translate(915,328.4) scale(43.3)" d="M0,0 L.64,0 M.32,0 L.32,1" fill="none" stroke="#a74d7a" stroke-width="0.0808" stroke-linecap="round" stroke-linejoin="round"/>
<mask id="kom" maskUnits="userSpaceOnUse" x="0" y="0" width="960" height="666">
<rect x="0" y="0" width="960" height="666" fill="#fff"/>
<text transform="translate(794.26,505.50) scale(1.0575,1)" font-size="32.61" fill="#000" font-weight="bold" >IC2</text>
<text transform="translate(832.30,625.30) rotate(-90) scale(1.0699,1) translate(-0.52,0)" font-size="34.78" fill="#000" font-weight="bold" >406</text>
<text transform="translate(832.30,661.50) rotate(-90) scale(0.8577,1) translate(-1.04,0)" font-size="34.78" fill="#000" font-weight="bold" >S</text>
<text transform="translate(932.32,467.50) scale(1.1761,1)" font-size="48.55" fill="#000" font-weight="bold" >C</text>
</mask>
<g mask="url(#kom)">
<rect x="791.5" y="476.5" width="58.30" height="35.20" fill="#a74d7a" />
<rect x="802" y="560" width="36.30" height="92.00" fill="#a74d7a" />
<rect x="924.3" y="422.5" width="28.70" height="56.80" fill="#a74d7a" />
</g>
<circle cx="27" cy="92" r="12.35" fill="#c8c8c8"/><circle cx="27" cy="92" r="6.1" fill="#8a6508"/>
<circle cx="76" cy="76" r="12.35" fill="#c8c8c8"/><circle cx="76" cy="76" r="6.1" fill="#8a6508"/>
<circle cx="127" cy="60" r="12.35" fill="#c8c8c8"/><circle cx="127" cy="60" r="6.1" fill="#8a6508"/>
<circle cx="63" cy="166" r="12.35" fill="#c8c8c8"/><circle cx="63" cy="166" r="6.1" fill="#8a6508"/>
<circle cx="47" cy="284" r="12.35" fill="#c8c8c8"/><circle cx="47" cy="284" r="6.1" fill="#8a6508"/>
<circle cx="305.7" cy="13.6" r="12.35" fill="#c8c8c8"/><circle cx="305.7" cy="13.6" r="6.1" fill="#8a6508"/>
<circle cx="359" cy="3.5" r="12.35" fill="#c8c8c8"/><circle cx="359" cy="3.5" r="6.1" fill="#8a6508"/>
<circle cx="409.5" cy="3.5" r="12.35" fill="#c8c8c8"/><circle cx="409.5" cy="3.5" r="6.1" fill="#8a6508"/>
<circle cx="396.75" cy="405.75" r="12.35" fill="#c8c8c8"/><circle cx="396.75" cy="405.75" r="6.1" fill="#8a6508"/>
<circle cx="496" cy="405.75" r="12.35" fill="#c8c8c8"/><circle cx="496" cy="405.75" r="6.1" fill="#8a6508"/>
<circle cx="590" cy="405.75" r="12.35" fill="#c8c8c8"/><circle cx="590" cy="405.75" r="6.1" fill="#8a6508"/>
<circle cx="728" cy="337" r="12.35" fill="#c8c8c8"/><circle cx="728" cy="337" r="6.1" fill="#8a6508"/>
<circle cx="754.7" cy="427" r="12.35" fill="#c8c8c8"/><circle cx="754.7" cy="427" r="6.1" fill="#8a6508"/>
<circle cx="845" cy="427" r="12.35" fill="#c8c8c8"/><circle cx="845" cy="427" r="6.1" fill="#8a6508"/>
<circle cx="689" cy="471.7" r="12.35" fill="#c8c8c8"/><circle cx="689" cy="471.7" r="6.1" fill="#8a6508"/>
<circle cx="740" cy="510" r="12.35" fill="#c8c8c8"/><circle cx="740" cy="510" r="6.1" fill="#8a6508"/>
<circle cx="848" cy="509.7" r="12.35" fill="#c8c8c8"/><circle cx="848" cy="509.7" r="6.1" fill="#8a6508"/>
<circle cx="895" cy="509.5" r="12.35" fill="#c8c8c8"/><circle cx="895" cy="509.5" r="6.1" fill="#8a6508"/>
<circle cx="939" cy="509.5" r="12.35" fill="#c8c8c8"/><circle cx="939" cy="509.5" r="6.1" fill="#8a6508"/>
<circle cx="816.7" cy="631.7" r="12.35" fill="#c8c8c8"/><circle cx="816.7" cy="631.7" r="6.1" fill="#8a6508"/>
<circle cx="89" cy="546" r="12.35" fill="#c8c8c8"/><circle cx="89" cy="546" r="6.1" fill="#8a6508"/>
<circle cx="250" cy="555.5" r="12.35" fill="#c8c8c8"/><circle cx="250" cy="555.5" r="6.1" fill="#8a6508"/>
<circle cx="111" cy="610.3" r="12.35" fill="#c8c8c8"/><circle cx="111" cy="610.3" r="6.1" fill="#8a6508"/>
<circle cx="357" cy="578" r="12.35" fill="#c8c8c8"/><circle cx="357" cy="578" r="6.1" fill="#8a6508"/>
<circle cx="393.5" cy="632" r="12.35" fill="#c8c8c8"/><circle cx="393.5" cy="632" r="6.1" fill="#8a6508"/>
<circle cx="318.5" cy="644" r="12.35" fill="#c8c8c8"/><circle cx="318.5" cy="644" r="6.1" fill="#8a6508"/>
<circle cx="461.7" cy="653" r="12.35" fill="#c8c8c8"/><circle cx="461.7" cy="653" r="6.1" fill="#8a6508"/>
<circle cx="955" cy="656" r="12.35" fill="#c8c8c8"/><circle cx="955" cy="656" r="6.1" fill="#8a6508"/>
<path d="M662,336.3 L662,71.30000000000001 A15,15 0 0 0 647,56.30000000000001 L395,56.30000000000001 A147.5,147.5 0 0 0 395,351.3 L647,351.3 A15,15 0 0 0 662,336.3" stroke="#cccccc" stroke-width="1.15" fill="none" stroke-dasharray="7.2 6.43" stroke-dashoffset="11.9"/>
<path d="M0,62.1 L161,0" stroke="#c0c0c0" stroke-width="1.05" fill="none" stroke-dasharray="7.1 6.4" stroke-dashoffset="10.5"/>
<polygon points="0,0 21,0 0,7.5" fill="#868686" />
<polygon points="0,0 21,0 0,7.5" fill="url(#h2)"/>
<path d="M178.2,0 L186.6,36 A30,30 0 0 0 245.3,26 L245,0" stroke="#c4c4c4" stroke-width="1.1" fill="none" stroke-dasharray="7.2 6" stroke-dashoffset="6.8"/>
<g opacity="0.999">
<g transform="translate(754.16,134.05) scale(0.7970,1)"><text font-size="25.72" fill="#bebebe" >R : NetLED1_R</text><rect x="131.38" y="-2.88" width="5.04" height="3.47" fill="#000"/><rect x="138.81" y="-2.88" width="4.89" height="3.47" fill="#000"/></g>
<g transform="translate(755.97,187.48) scale(0.7944,1)"><text font-size="25.72" fill="#bebebe" >B : NetLED1_B</text><rect x="129.96" y="-2.88" width="5.04" height="3.47" fill="#000"/><rect x="137.40" y="-2.88" width="4.89" height="3.47" fill="#000"/></g>
<text transform="translate(792.20,240.91) scale(0.8067,1)" font-size="25.72" fill="#bebebe" >A : 5V0</text>
<g transform="translate(754.18,294.34) scale(0.7955,1)"><text font-size="25.72" fill="#bebebe" >G : NetLED1_G</text><rect x="132.81" y="-2.88" width="5.04" height="3.47" fill="#000"/><rect x="140.25" y="-2.88" width="4.89" height="3.47" fill="#000"/></g>
<text transform="translate(562.74,550.90) scale(0.8930,1)" font-size="26.09" fill="#bebebe" >2</text>
<text transform="translate(545.97,575.00) scale(0.7972,1)" font-size="25.80" fill="#bebebe" >GND</text>
<g transform="translate(719.59,575.90) scale(0.7342,1)"><text font-size="18.84" fill="#bebebe" >1 : GND</text><rect x="0.94" y="-2.11" width="3.69" height="2.54" fill="#000"/><rect x="6.39" y="-2.11" width="3.58" height="2.54" fill="#000"/></g>
<g transform="translate(718.01,629.00) scale(0.7546,1)"><text font-size="18.41" fill="#bebebe" >2 : 1WW</text><rect x="26.50" y="-2.06" width="3.61" height="2.48" fill="#000"/><rect x="31.82" y="-2.06" width="3.50" height="2.48" fill="#000"/></g>
<text transform="translate(900.32,575.40) scale(0.9734,1)" font-size="18.12" fill="#bebebe" >6</text>
<text transform="translate(900.51,628.70) scale(0.9529,1)" font-size="18.12" fill="#bebebe" >5</text>
<g transform="translate(836.58,584.30) scale(0.8291,1)"><text font-size="9.28" fill="#e4e4e4" >DT01_ID</text><rect x="17.99" y="-1.04" width="1.82" height="1.25" fill="#000"/><rect x="20.67" y="-1.04" width="1.76" height="1.25" fill="#000"/></g>
<text transform="translate(36.22,198.30) scale(0.8846,1)" font-size="8.70" fill="#bebebe" >2</text>
<g transform="translate(32.26,206.00) scale(0.7820,1)"><text font-size="8.55" fill="#bebebe" >12V</text><rect x="0.43" y="-0.96" width="1.68" height="1.15" fill="#000"/><rect x="2.90" y="-0.96" width="1.62" height="1.15" fill="#000"/></g>
<text transform="translate(84.99,198.30) scale(0.9352,1)" font-size="8.70" fill="#bebebe" >2</text>
<g transform="translate(80.96,206.00) scale(0.7890,1)"><text font-size="8.55" fill="#bebebe" >12V</text><rect x="0.43" y="-0.96" width="1.68" height="1.15" fill="#000"/><rect x="2.90" y="-0.96" width="1.62" height="1.15" fill="#000"/></g>
<g transform="translate(129.39,198.30) scale(0.9857,1)"><text font-size="8.70" fill="#bebebe" >1</text><rect x="0.43" y="-0.97" width="1.70" height="1.17" fill="#000"/><rect x="2.95" y="-0.97" width="1.65" height="1.17" fill="#000"/></g>
<text transform="translate(123.75,206.00) scale(0.8255,1)" font-size="8.55" fill="#bebebe" >GND</text>
<text transform="translate(96.11,273.80) scale(0.9849,1)" font-size="14.06" fill="#bebebe" >2</text>
<g transform="translate(89.98,286.30) scale(0.7724,1)"><text font-size="13.91" fill="#bebebe" >12V</text><rect x="0.70" y="-1.56" width="2.73" height="1.88" fill="#000"/><rect x="4.72" y="-1.56" width="2.64" height="1.88" fill="#000"/></g>
<g transform="translate(96.62,358.10) scale(0.9388,1)"><text font-size="14.35" fill="#bebebe" >1</text><rect x="0.72" y="-1.61" width="2.81" height="1.94" fill="#000"/><rect x="4.86" y="-1.61" width="2.73" height="1.94" fill="#000"/></g>
<text transform="translate(87.34,371.00) scale(0.7773,1)" font-size="14.35" fill="#bebebe" >GND</text>
<g transform="translate(312.80,526.30) rotate(-90) scale(1.0466,1) translate(-2.04,0)"><text font-size="21.45" fill="#bebebe" >1</text><rect x="1.07" y="-2.40" width="4.20" height="2.90" fill="#000"/><rect x="7.27" y="-2.40" width="4.08" height="2.90" fill="#000"/></g>
<text transform="translate(330.80,543.80) rotate(-90) scale(0.7437,1) translate(-0.53,0)" font-size="21.01" fill="#bebebe" >XTALI</text>
<text transform="translate(414.00,526.60) rotate(-90) scale(0.8724,1) translate(-0.38,0)" font-size="18.84" fill="#bebebe" >4</text>
<text transform="translate(432.20,540.00) rotate(-90) scale(0.7607,1) translate(-1.01,0)" font-size="20.29" fill="#bebebe" >GND</text>
<g transform="translate(15.60,290.60) rotate(-90) scale(0.8998,1) translate(-1.05,0)"><text font-size="11.01" fill="#bebebe" >12V</text><rect x="0.55" y="-1.23" width="2.16" height="1.49" fill="#000"/><rect x="3.73" y="-1.23" width="2.09" height="1.49" fill="#000"/></g>
<text transform="translate(4.80,285.00) rotate(-90) scale(1.0387,1) translate(-0.53,0)" font-size="10.58" fill="#bebebe" >2</text>
<g transform="translate(13.20,400.00) rotate(-90) scale(1.0413,1) translate(-0.68,0)"><text font-size="8.55" fill="#bebebe" >NetD4_1</text><rect x="29.42" y="-0.96" width="1.68" height="1.15" fill="#000"/><rect x="31.89" y="-0.96" width="1.62" height="1.15" fill="#000"/></g>
<g transform="translate(5.00,384.00) rotate(-90) scale(1.5646,1) translate(-0.62,0)"><text font-size="6.52" fill="#bebebe" >1</text><rect x="0.33" y="-0.73" width="1.28" height="0.88" fill="#000"/><rect x="2.21" y="-0.73" width="1.24" height="0.88" fill="#000"/></g>
<g transform="translate(-1.68,206.00) scale(0.9844,1)"><text font-size="8.26" fill="#bebebe" >_1</text><rect x="5.01" y="-0.93" width="1.62" height="1.12" fill="#000"/><rect x="7.39" y="-0.93" width="1.57" height="1.12" fill="#000"/></g>
</g>
</g>
<rect x="953" y="0" width="7.00" height="652.00" fill="#373737" />
<rect x="953" y="0" width="1.20" height="652.00" fill="#2e2e2e" />
<rect x="957.6" y="-2" width="4.40" height="22.20" rx="1.2" fill="#404040" />
<rect x="957.6" y="22.4" width="4.40" height="44.60" rx="1.2" fill="#404040" />
<rect x="208.6" y="1.5" width="274.70" height="20.20" rx="1.5" fill="#3e3e3e" />
<polygon points="249,21 252.4,21 252.4,17.6" fill="#d8d8d8" />
<polygon points="270,21 273.4,21 273.4,17.6" fill="#d8d8d8" />
<polygon points="291,21 294.4,21 294.4,17.6" fill="#d8d8d8" />
<polygon points="312,21 315.4,21 315.4,17.6" fill="#d8d8d8" />
<polygon points="332.5,21 335.9,21 335.9,17.6" fill="#d8d8d8" />
<polygon points="353,21 356.4,21 356.4,17.6" fill="#d8d8d8" />
<polygon points="373.5,21 376.9,21 376.9,17.6" fill="#d8d8d8" />
<polygon points="394,21 397.4,21 397.4,17.6" fill="#d8d8d8" />
<polygon points="414.7,21 418.09999999999997,21 418.09999999999997,17.6" fill="#d8d8d8" />
<polygon points="435.6,21 439.0,21 439.0,17.6" fill="#d8d8d8" />
<polygon points="476.4,21 479.79999999999995,21 479.79999999999995,17.6" fill="#d8d8d8" />
<polyline points="294.6,4.5 294.6,18.5" fill="none" stroke="#2a2a2a" stroke-width="1.2" stroke-linejoin="round"/>
<path d="M217,7.3 L226.4,7.3 L226.4,8.6 L223.2,12.2 L223.2,15.7 L220.2,15.7 L220.2,12.2 L217,8.6 Z" fill="#a4d4e6"/>
<path d="M237.6,11.5 L246.9,11.5 M242.25,6.8 L242.25,16.2" stroke="#5c92dc" stroke-width="1.1" fill="none"/>
<rect x="258.5" y="7" width="10" height="9.6" fill="none" stroke="#5c88e0" stroke-width="1.2" stroke-dasharray="1.6 1.1"/>
<rect x="279.8" y="9.6" width="2.80" height="4.40" fill="#e87878" />
<rect x="283" y="7.2" width="2.60" height="6.80" fill="#74b4e8" />
<rect x="286" y="9.6" width="2.80" height="4.40" fill="#e87878" />
<rect x="279.4" y="15" width="9.60" height="1.00" fill="#74b4e8" />
<rect x="301.6" y="5.9" width="1.10" height="11.30" fill="#9cbcd8" />
<rect x="299.2" y="8.1" width="11.60" height="1.10" fill="#9cbcd8" />
<rect x="303.8" y="5.9" width="1.10" height="11.30" fill="#9cbcd8" />
<rect x="299.2" y="10.3" width="11.60" height="1.10" fill="#9cbcd8" />
<rect x="306.0" y="5.9" width="1.10" height="11.30" fill="#9cbcd8" />
<rect x="299.2" y="12.5" width="11.60" height="1.10" fill="#9cbcd8" />
<rect x="308.20000000000005" y="5.9" width="1.10" height="11.30" fill="#9cbcd8" />
<rect x="299.2" y="14.7" width="11.60" height="1.10" fill="#9cbcd8" />
<rect x="300.6" y="7.2" width="8.80" height="8.80" fill="#b8ccdc" />
<rect x="301.3" y="7.9" width="7.40" height="7.40" fill="#d2dae2" />
<rect x="301.3" y="7.9" width="7.4" height="7.4" fill="none" stroke="#e8f0f8" stroke-width="0.7"/>
<path d="M322.2,15.6 L329.2,8.7" stroke="#5c8cd8" stroke-width="1.5"/>
<circle cx="329.4" cy="8.5" r="1.8" fill="#5a4a20" stroke="#e0a018" stroke-width="1.2"/><circle cx="321.9" cy="16" r="1.8" fill="#5a4a20" stroke="#e0a018" stroke-width="1.2"/>
<path d="M320.5,12.6 L320.5,7.5 L324.6,7.5" stroke="#d8981c" stroke-width="1.3" fill="none"/><path d="M324,5.9 L326.2,7.5 L324,9.1 Z" fill="#e0a018"/>
<path d="M342.3,13 L342.3,10.6 C342.3,7.4 346,7.4 346,10.6 L346,11.6 C346,13.8 347.6,13.8 347.6,11.6 L347.6,10.6 C347.6,7.4 351.2,7.4 351.2,10.6 L351.2,13" stroke="#6a8cc4" stroke-width="1.3" fill="none"/>
<circle cx="342.2" cy="14.4" r="1.5" fill="#8a6a20" stroke="#c89020" stroke-width="1"/><circle cx="351.3" cy="14.4" r="1.5" fill="#8a6a20" stroke="#c89020" stroke-width="1"/>
<circle cx="365.3" cy="10.3" r="2.9" fill="none" stroke="#f0cc18" stroke-width="3.2"/>
<rect x="369.8" y="9.1" width="3.20" height="2.30" fill="#2cb42c" />
<rect x="364.1" y="14.4" width="2.80" height="3.60" fill="#f0a028" />
<rect x="365" y="15" width="1.00" height="2.60" fill="#fff" />
<path d="M382.3,15.5 L382.3,11.3 L386.2,11.3 L386.2,7.6 L393.6,7.6 L393.6,15.5 Z" fill="#b8dcea" stroke="#7ab4dc" stroke-width="0.8"/>
<rect x="403" y="6.8" width="11.2" height="10.4" fill="none" stroke="#d890c8" stroke-width="1.2"/>
<path d="M406,13.4 L411.4,9.7" stroke="#5c92dc" stroke-width="1.2"/>
<circle cx="406" cy="13.5" r="1.4" fill="#d09020"/><circle cx="411.4" cy="9.6" r="1.4" fill="#d09020"/>
<path d="M424.8,8.6 L424.8,16.2 L433.6,16.2 L433.6,8.6" stroke="#5c92dc" stroke-width="1.3" fill="none"/>
<circle cx="424.7" cy="7.3" r="1.3" fill="none" stroke="#e8a020" stroke-width="1"/><circle cx="433.7" cy="7.3" r="1.3" fill="none" stroke="#e8a020" stroke-width="1"/>
<text x="426.3" y="14.6" font-size="6" fill="#aaa">10</text>
<text x="444.7" y="16.9" font-size="14.6" font-weight="bold" fill="#5c9ce4" style="font-family:'Liberation Serif',serif">A</text>
<path d="M466,16.4 L475.4,7.1" stroke="#5c9ce4" stroke-width="1.4"/>
<path d="M244.3,21.7 L244.3,25" stroke="#ddd" stroke-width="1"/>
<rect x="0" y="651.5" width="960.00" height="14.50" fill="#222222" />
<g opacity="0.999">
<rect x="0" y="652" width="8.70" height="13.00" fill="#3b3b3b" />
<g transform="translate(1.04,661.70) scale(1.3627,1)"><text font-size="8.99" fill="#d6d6d6" >1</text><rect x="0.45" y="-1.01" width="1.76" height="1.21" fill="#000"/><rect x="3.05" y="-1.01" width="1.71" height="1.21" fill="#000"/></g>
<rect x="10.6" y="652" width="70.00" height="13.00" fill="#3b3b3b" />
<rect x="14.8" y="654.6" width="7" height="7" fill="#008000" stroke="#a0a0a0" stroke-width="0.7" stroke-opacity="0.55"/>
<text transform="translate(27.52,661.70) scale(0.9470,1)" font-size="8.99" fill="#d6d6d6" >Mechanical 3</text>
<rect x="82.6" y="652" width="70.00" height="13.00" fill="#3b3b3b" />
<rect x="86.6" y="654.6" width="7" height="7" fill="#800080" stroke="#a0a0a0" stroke-width="0.7" stroke-opacity="0.55"/>
<text transform="translate(99.32,661.70) scale(0.9451,1)" font-size="8.99" fill="#d6d6d6" >Mechanical 6</text>
<rect x="154.6" y="652" width="70.00" height="13.00" fill="#3b3b3b" />
<rect x="158.6" y="654.6" width="7" height="7" fill="#008000" stroke="#a0a0a0" stroke-width="0.7" stroke-opacity="0.55"/>
<text transform="translate(170.92,661.70) scale(0.9409,1)" font-size="8.99" fill="#d6d6d6" >Mechanical 7</text>
<rect x="226.6" y="652" width="69.80" height="13.00" fill="#3b3b3b" />
<rect x="230.4" y="654.6" width="7" height="7" fill="#808000" stroke="#a0a0a0" stroke-width="0.7" stroke-opacity="0.55"/>
<text transform="translate(242.32,661.70) scale(0.9490,1)" font-size="8.99" fill="#d6d6d6" >Mechanical 8</text>
<rect x="298.4" y="652" width="73.60" height="13.00" fill="#3b3b3b" />
<rect x="301.8" y="654.6" width="7" height="7" fill="#008000" stroke="#a0a0a0" stroke-width="0.7" stroke-opacity="0.55"/>
<g transform="translate(314.32,661.70) scale(0.9464,1)"><text font-size="8.99" fill="#d6d6d6" >Mechanical 11</text><rect x="48.40" y="-1.01" width="1.76" height="1.21" fill="#000"/><rect x="50.99" y="-1.01" width="1.71" height="1.21" fill="#000"/><rect x="53.39" y="-1.01" width="1.76" height="1.21" fill="#000"/><rect x="55.99" y="-1.01" width="1.71" height="1.21" fill="#000"/></g>
<rect x="374" y="652" width="73.60" height="13.00" fill="#3b3b3b" />
<rect x="377.2" y="654.6" width="7" height="7" fill="#ff00ff" stroke="#a0a0a0" stroke-width="0.7" stroke-opacity="0.55"/>
<g transform="translate(390.03,661.70) scale(0.9255,1)"><text font-size="8.99" fill="#d6d6d6" >Mechanical 13</text><rect x="48.40" y="-1.01" width="1.76" height="1.21" fill="#000"/><rect x="50.99" y="-1.01" width="1.71" height="1.21" fill="#000"/></g>
<rect x="449.6" y="652" width="73.80" height="13.00" fill="#3b3b3b" />
<rect x="452.8" y="654.6" width="7" height="7" fill="#008000" stroke="#a0a0a0" stroke-width="0.7" stroke-opacity="0.55"/>
<g transform="translate(466.03,661.70) scale(0.9255,1)"><text font-size="8.99" fill="#d6d6d6" >Mechanical 15</text><rect x="48.40" y="-1.01" width="1.76" height="1.21" fill="#000"/><rect x="50.99" y="-1.01" width="1.71" height="1.21" fill="#000"/></g>
<rect x="525.4" y="652" width="65.00" height="13.00" fill="#3b3b3b" />
<rect x="528.4" y="654.6" width="7" height="7" fill="#a74d7a" stroke="#a0a0a0" stroke-width="0.7" stroke-opacity="0.55"/>
<text transform="translate(542.14,661.70) scale(0.9087,1)" font-size="8.99" fill="#d6d6d6" >Top Overlay</text>
<rect x="592.4" y="652" width="55.00" height="13.00" fill="#3b3b3b" />
<rect x="595.6" y="654.6" width="7" height="7" fill="#808080" stroke="#a0a0a0" stroke-width="0.7" stroke-opacity="0.55"/>
<text transform="translate(607.64,661.70) scale(0.8944,1)" font-size="8.99" fill="#d6d6d6" >Top Paste</text>
<rect x="649.4" y="652" width="60.40" height="13.00" fill="#3b3b3b" />
<rect x="653.4" y="654.6" width="7" height="7" fill="#800080" stroke="#a0a0a0" stroke-width="0.7" stroke-opacity="0.55"/>
<text transform="translate(666.13,661.70) scale(0.9640,1)" font-size="8.99" fill="#d6d6d6" >Top Solder</text>
<rect x="711.8" y="652" width="75.20" height="13.00" fill="#3b3b3b" />
<rect x="716" y="654.6" width="7" height="7" fill="#ff00ff" stroke="#a0a0a0" stroke-width="0.7" stroke-opacity="0.55"/>
<text transform="translate(728.60,661.70) scale(0.9756,1)" font-size="8.99" fill="#d6d6d6" >Bottom Solder</text>
<rect x="789" y="652" width="61.40" height="13.00" fill="#3b3b3b" />
<rect x="793.2" y="654.6" width="7" height="7" fill="#800000" stroke="#a0a0a0" stroke-width="0.7" stroke-opacity="0.55"/>
<text transform="translate(805.09,661.70) scale(0.9854,1)" font-size="8.99" fill="#d6d6d6" >Drill Guide</text>
<rect x="852.4" y="652" width="77.00" height="13.00" fill="#3b3b3b" />
<rect x="856.6" y="654.6" width="7" height="7" fill="#ff00ff" stroke="#a0a0a0" stroke-width="0.7" stroke-opacity="0.55"/>
<text transform="translate(868.34,661.70) scale(0.9162,1)" font-size="8.99" fill="#d6d6d6" >Keep-Out Layer</text>
<rect x="931.4" y="652" width="28.60" height="13.00" fill="#3b3b3b" />
<rect x="935.6" y="654.6" width="7" height="7" fill="#f00020" stroke="#a0a0a0" stroke-width="0.7" stroke-opacity="0.55"/>
<text transform="translate(947.47,661.70) scale(1.0100,1)" font-size="8.99" fill="#d6d6d6" >D</text>
</g>
</svg>
</body></html>
